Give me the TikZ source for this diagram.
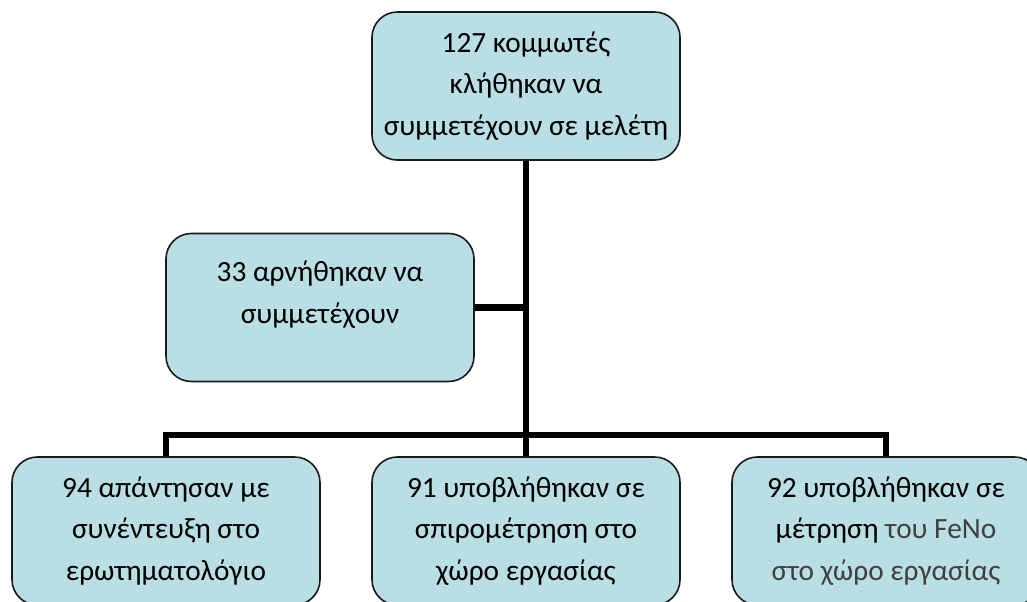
\documentclass[tikz,border=0pt]{standalone}
\usepackage{fontspec}
\setmainfont{Carlito}
\definecolor{boxfill}{HTML}{B9DFE5}
\definecolor{boxline}{HTML}{1A1A1A}
\definecolor{graytxt}{HTML}{404040}
\begin{document}
\begin{tikzpicture}[x=0.75pt,y=-0.75pt,
  box/.style={draw=boxline,line width=1.2pt,fill=boxfill,rounded corners=19pt,
    minimum width=231pt,minimum height=111pt,inner sep=0pt,align=center,
    font=\fontsize{22}{31}\selectfont,text=black},
  txt/.style={align=center,inner sep=0pt,font=\fontsize{22}{31.5}\selectfont,text=black},
  conn/.style={line width=5.2pt,black,line join=miter}]
\useasboundingbox (0,0) rectangle (1027,601);
\clip (0,0) rectangle (1027,601);
\coordinate (j) at (526,435);
\node[box] (top) at (526,86) {127 κομμωτές\\κλήθηκαν να\\συμμετέχουν σε μελέτη};
\node[box] (refuse) at (320,307.5) {};
\node[txt] at (320,295) {33 αρνήθηκαν να\\συμμετέχουν};
\node[box] (a) at (166,531) {94 απάντησαν με\\συνέντευξη στο\\ερωτηματολόγιο};
\node[box] (b) at (526,531) {91 υποβλήθηκαν σε\\σπιρομέτρηση στο\\χώρο εργασίας};
\node[box] (c) at (886,531) {92 υποβλήθηκαν σε\\μέτρηση {\color{graytxt}του FeNo}\\{\color{graytxt}στο χώρο εργασίας}};
\draw[conn] (top.south) -- (j);
\draw[conn] (refuse.east) -- (refuse.east -| top.south);
\draw[conn] (a.north) |- (j);
\draw[conn] (c.north) |- (j);
\draw[conn] (b.north) -- (j);
\end{tikzpicture}
\end{document}
